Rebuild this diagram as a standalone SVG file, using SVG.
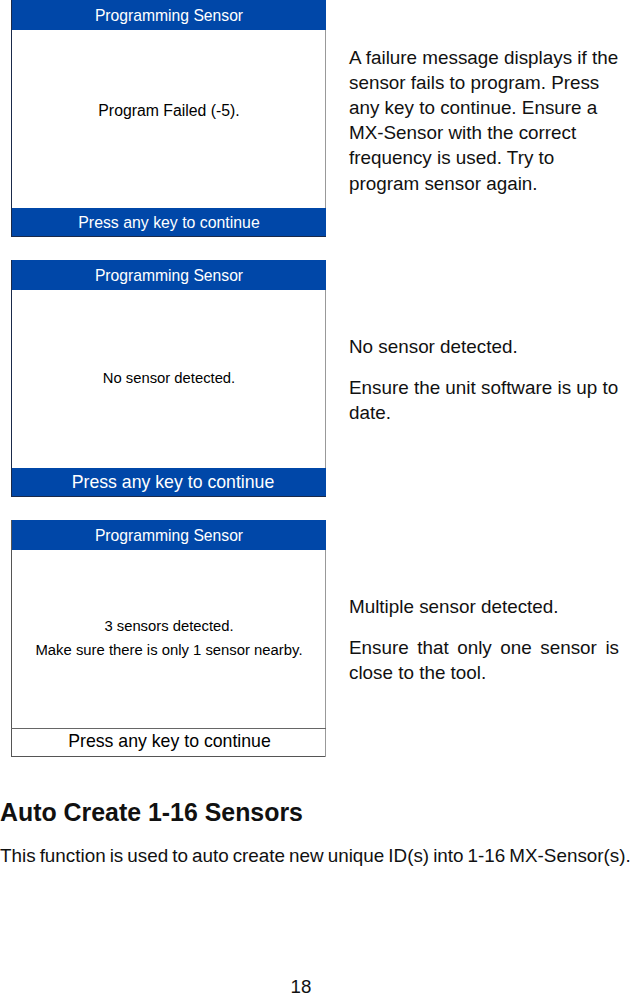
<svg xmlns="http://www.w3.org/2000/svg" width="630" height="997" viewBox="0 0 630 997">
<style>
text{font-family:"Liberation Sans",Arial,sans-serif;fill:#111}
.b{fill:#0047a8}
.hd{font-size:15.700px;fill:#fff;text-anchor:middle}
.sc{font-size:14.800px;text-anchor:middle;fill:#000}
.ft{fill:#fff;text-anchor:middle}
.p{font-size:18.850px}
</style>
<rect width="630" height="997" fill="#fff"/>
<g id="screen-failed">
<rect x="11" y="0" width="315" height="237" fill="#fff"/>
<rect class="b" x="11" y="0" width="315" height="30"/>
<rect class="b" x="11" y="208" width="315" height="29"/>
<path d="M11.500 0V237M11 236.500H326" fill="none" stroke="#1a2a4a"/>
<path d="M325.500 30V208" fill="none" stroke="#999"/>
<text class="hd" x="169" y="21">Programming Sensor</text>
<text class="sc" x="169" y="116" style="font-size:15.800px">Program Failed (-5).</text>
<text class="ft" x="169" y="228" font-size="15.850">Press any key to continue</text>
</g>
<g id="screen-none">
<rect x="11" y="260" width="315" height="237" fill="#fff"/>
<rect class="b" x="11" y="260" width="315" height="30"/>
<rect class="b" x="11" y="468" width="315" height="29"/>
<path d="M11.500 260V497M11 496.500H326" fill="none" stroke="#1a2a4a"/>
<path d="M325.500 290V468" fill="none" stroke="#999"/>
<text class="hd" x="169" y="281">Programming Sensor</text>
<text class="sc" x="169" y="383">No sensor detected.</text>
<text class="ft" x="173" y="488" font-size="17.700">Press any key to continue</text>
</g>
<g id="screen-multiple">
<rect x="11" y="520" width="315" height="237" fill="#fff"/>
<rect class="b" x="11" y="520" width="315" height="30"/>
<path d="M11.500 520V757M11 756.500H326" fill="none" stroke="#555"/>
<path d="M325.500 550V757" fill="none" stroke="#999"/>
<path d="M11 728.500H326" fill="none" stroke="#666"/>
<text class="hd" x="169" y="541">Programming Sensor</text>
<text class="sc" x="169" y="631">3 sensors detected.</text>
<text class="sc" x="169" y="655" style="font-size:14.850px">Make sure there is only 1 sensor nearby.</text>
<text x="169.500" y="747" font-size="17.700" text-anchor="middle" style="fill:#000">Press any key to continue</text>
</g>
<g id="text-failed" class="p">
<text x="349" y="64">A failure message displays if the</text>
<text x="349" y="89">sensor fails to program. Press</text>
<text x="349" y="114">any key to continue. Ensure a</text>
<text x="349" y="139">MX-Sensor with the correct</text>
<text x="349" y="164">frequency is used. Try to</text>
<text x="349" y="190">program sensor again.</text>
</g>
<g id="text-none" class="p">
<text x="349" y="353">No sensor detected.</text>
<text x="349" y="394">Ensure the unit software is up to</text>
<text x="349" y="419">date.</text>
</g>
<g id="text-multiple" class="p">
<text x="349" y="613">Multiple sensor detected.</text>
<text x="349" y="654" word-spacing="3.300">Ensure that only one sensor is</text>
<text x="349" y="679">close to the tool.</text>
</g>
<g id="section">
<text x="0" y="821" font-size="24.900px" font-weight="bold">Auto Create 1-16 Sensors</text>
<text x="0" y="862" font-size="18.850px" word-spacing="-1.200">This function is used to auto create new unique ID(s) into 1-16 MX-Sensor(s).</text>
<text x="301" y="993" font-size="18.700px" text-anchor="middle">18</text>
</g>
</svg>
